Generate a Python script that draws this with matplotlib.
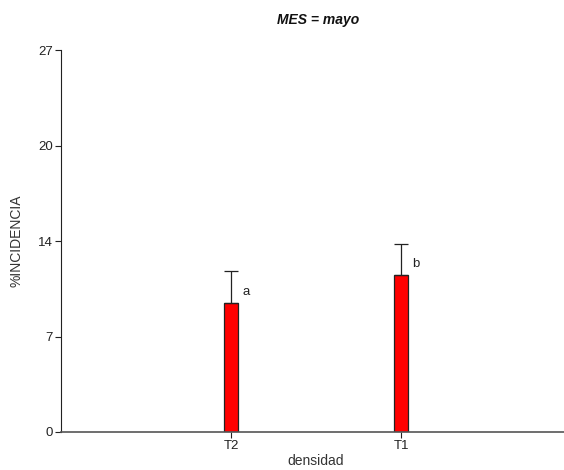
import numpy as np
import matplotlib
matplotlib.use('Agg')
import matplotlib.pyplot as plt

plt.rcParams['font.family'] = ['Liberation Sans', 'DejaVu Sans']

# data
categorias = ['T2', 'T1']
medias = [9.15, 11.1]
error_sup = [2.25, 2.2]
letras = ['a', 'b']
yticks_val = [0, 6.75, 13.5, 20.25, 27]
yticks_lab = ['0', '7', '14', '20', '27']

fig = plt.figure(figsize=(5.64, 4.70), dpi=100)
ax = fig.add_axes([61 / 564, 38 / 470, 510 / 564, 382 / 470])

x = np.arange(1, len(categorias) + 1)
ax.bar(x, medias, width=0.082, color='#ff0000', edgecolor='#222222', linewidth=0.9, zorder=2)
ax.errorbar(x, medias, yerr=[np.zeros(len(x)), error_sup], fmt='none',
            ecolor='#222222', elinewidth=0.9, capsize=5, capthick=0.9, zorder=3)

for xi, m, e, l in zip(x, medias, error_sup, letras):
    ax.text(xi + 0.065, m + 0.35, l, fontsize=9.5, color='#222222', ha='left', va='bottom')

ax.set_xlim(0, 3)
ax.set_ylim(0, 27)
ax.set_xticks(x)
ax.set_xticklabels(categorias, fontsize=9.5, color='#222222')
ax.set_yticks(yticks_val)
ax.set_yticklabels(yticks_lab, fontsize=9.5, color='#222222')

for s in ['top', 'right']:
    ax.spines[s].set_visible(False)
ax.spines['left'].set_color('#222222')
ax.spines['bottom'].set_color('#555555')
ax.spines['bottom'].set_linewidth(1.2)
ax.tick_params(axis='both', length=4, width=0.8, color='#222222', pad=2)

ax.set_xlabel('densidad', fontsize=10, color='#333333', labelpad=1)
ax.set_ylabel('%INCIDENCIA', fontsize=10, color='#333333', labelpad=10)
ax.set_title('MES = mayo', fontsize=10, fontweight='bold', fontstyle='italic',
             color='#111111', x=(318 - 61) / 510, pad=19)

fig.savefig('out.png', dpi=100)
